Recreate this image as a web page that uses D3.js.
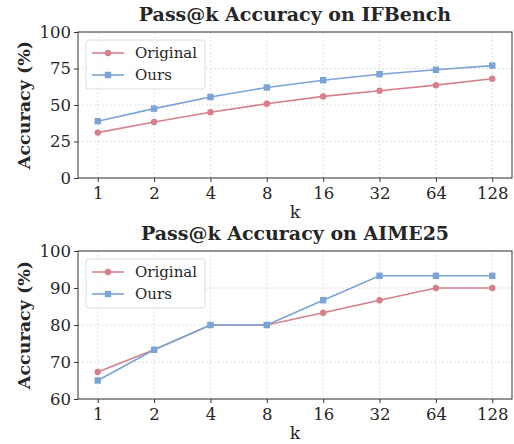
<!DOCTYPE html>
<html>
<head>
<meta charset="utf-8">
<script src="https://cdn.jsdelivr.net/npm/d3@7"></script>
<style>
body { margin: 0; background: #fff; }
text { font-family: "DejaVu Serif", serif; fill: #262626; }
</style>
</head>
<body>
<div id="chart"></div>
<script>
// data
var kLabels = ["1", "2", "4", "8", "16", "32", "64", "128"];
var ifOriginal = [31.1, 38.4, 45.0, 50.9, 55.9, 59.8, 63.6, 68.0];
var ifOurs = [38.9, 47.5, 55.5, 62.0, 67.0, 71.1, 74.1, 77.0];
var aimeOriginal = [67.3, 73.3, 80.0, 80.0, 83.3, 86.7, 90.0, 90.0];
var aimeOurs = [65.0, 73.3, 80.0, 80.0, 86.7, 93.3, 93.3, 93.3];
var ifTicks = [0, 25, 50, 75, 100];
var aimeTicks = [60, 70, 80, 90, 100];

var colOrig = "#d7808d", colOurs = "#7aa3d6";

var svg = d3.select("#chart").append("svg")
    .attr("width", 514)
    .attr("height", 444);

function panel(top, bottom, title, orig, ours, yDomain, yTicks) {
    var left = 78, right = 512;
    var g = svg.append("g");

    var x = d3.scalePoint()
        .domain(kLabels)
        .range([left, right])
        .padding(0.35);

    var y = d3.scaleLinear()
        .domain(yDomain)
        .range([bottom, top]);

    // grid
    g.selectAll("line.hgrid").data(yTicks).enter().append("line")
        .attr("x1", left).attr("x2", right)
        .attr("y1", function(d) { return y(d); })
        .attr("y2", function(d) { return y(d); })
        .attr("stroke", "#d8d8d8").attr("stroke-width", 0.8)
        .attr("stroke-dasharray", "2,2");
    g.selectAll("line.vgrid").data(kLabels).enter().append("line")
        .attr("y1", top).attr("y2", bottom)
        .attr("x1", function(d) { return x(d); })
        .attr("x2", function(d) { return x(d); })
        .attr("stroke", "#d8d8d8").attr("stroke-width", 0.8)
        .attr("stroke-dasharray", "2,2");

    // frame
    g.append("rect")
        .attr("x", left).attr("y", top)
        .attr("width", right - left).attr("height", bottom - top)
        .attr("fill", "none").attr("stroke", "#333").attr("stroke-width", 1);

    var xAxis = d3.axisBottom(x).tickSize(4).tickPadding(5);
    var yAxis = d3.axisLeft(y).tickValues(yTicks).tickSize(4).tickPadding(3);

    var xg = g.append("g")
        .attr("transform", "translate(0," + bottom + ")")
        .call(xAxis);
    var yg = g.append("g")
        .attr("transform", "translate(" + left + ",0)")
        .call(yAxis);
    [xg, yg].forEach(function(a) {
        a.select(".domain").remove();
        a.selectAll(".tick line").attr("stroke", "#333");
        a.selectAll(".tick text").attr("font-size", 16.5)
            .attr("font-family", "DejaVu Serif").attr("fill", "#262626");
    });

    var line = d3.line()
        .x(function(d, i) { return x(kLabels[i]); })
        .y(function(d) { return y(d); });

    g.append("path").datum(orig)
        .attr("d", line).attr("fill", "none")
        .attr("stroke", colOrig).attr("stroke-width", 1.6);
    g.selectAll("circle.o").data(orig).enter().append("circle")
        .attr("cx", function(d, i) { return x(kLabels[i]); })
        .attr("cy", function(d) { return y(d); })
        .attr("r", 3.2).attr("fill", colOrig);

    g.append("path").datum(ours)
        .attr("d", line).attr("fill", "none")
        .attr("stroke", colOurs).attr("stroke-width", 1.6);
    g.selectAll("rect.s").data(ours).enter().append("rect")
        .attr("x", function(d, i) { return x(kLabels[i]) - 3.2; })
        .attr("y", function(d) { return y(d) - 3.2; })
        .attr("width", 6.4).attr("height", 6.4).attr("fill", colOurs);

    // titles
    g.append("text")
        .attr("x", (left + right) / 2).attr("y", top - 11)
        .attr("text-anchor", "middle")
        .attr("font-size", 19).attr("font-weight", "bold")
        .text(title);
    g.append("text")
        .attr("x", (left + right) / 2).attr("y", bottom + 39.5)
        .attr("text-anchor", "middle")
        .attr("font-size", 17.5)
        .text("k");
    g.append("text")
        .attr("transform", "translate(30," + ((top + bottom) / 2) + ") rotate(-90)")
        .attr("text-anchor", "middle")
        .attr("font-size", 17.5).attr("font-weight", "bold")
        .text("Accuracy (%)");

    // legend
    var lg = g.append("g").attr("transform", "translate(" + (left + 8) + "," + (top + 8) + ")");
    lg.append("rect")
        .attr("width", 119).attr("height", 49).attr("rx", 3)
        .attr("fill", "#fff").attr("fill-opacity", 0.8)
        .attr("stroke", "#dcdcdc");
    var items = [{name: "Original", c: colOrig, shape: "c"}, {name: "Ours", c: colOurs, shape: "s"}];
    items.forEach(function(it, i) {
        var cy = 13 + i * 22;
        lg.append("line").attr("x1", 6).attr("x2", 38).attr("y1", cy).attr("y2", cy)
            .attr("stroke", it.c).attr("stroke-width", 1.6);
        if (it.shape === "c") {
            lg.append("circle").attr("cx", 22).attr("cy", cy).attr("r", 3.2).attr("fill", it.c);
        } else {
            lg.append("rect").attr("x", 18.8).attr("y", cy - 3.2).attr("width", 6.4).attr("height", 6.4).attr("fill", it.c);
        }
        lg.append("text").attr("x", 49).attr("y", cy + 5)
            .attr("font-size", 15).text(it.name);
    });
}

panel(32, 178, "Pass@k Accuracy on IFBench", ifOriginal, ifOurs, [0, 100], ifTicks);
panel(251, 399, "Pass@k Accuracy on AIME25", aimeOriginal, aimeOurs, [60, 100], aimeTicks);
</script>
</body>
</html>
